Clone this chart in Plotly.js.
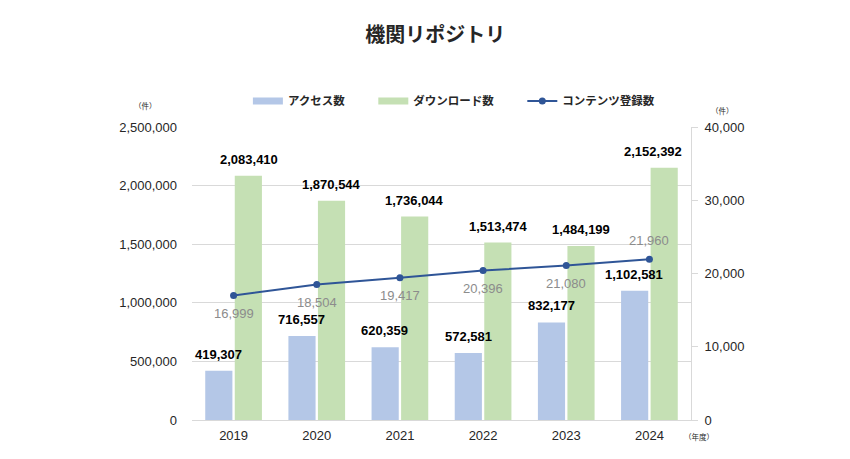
<!DOCTYPE html>
<html>
<head>
<meta charset="utf-8">
<script src="https://cdn.plot.ly/plotly-3.0.1.min.js"></script>
<style>html,body{margin:0;padding:0;background:#fff;}#chart{width:850px;height:459px;}</style>
</head>
<body>
<div id="chart"></div>
<script>
// ---- data ----
var years = ['2019', '2020', '2021', '2022', '2023', '2024'];
var accessCounts = [419307, 716557, 620359, 572581, 832177, 1102581];
var downloadCounts = [2083410, 1870544, 1736044, 1513474, 1484199, 2152392];
var contentCounts = [16999, 18504, 19417, 20396, 21080, 21960];
var seriesNames = ['アクセス数', 'ダウンロード数', 'コンテンツ登録数'];
var unitLeft = '（件）';
var unitRight = '（件）';
var unitX = '（年度）';
var chartTitle = '機関リポジトリ';

// ---- styles ----
var NUM_FONT = 'Liberation Sans, Arial, sans-serif';
var JP_FONT = 'Noto Sans CJK JP, sans-serif';
var BLUE = '#b4c7e7';
var GREEN = '#c5e0b4';
var LINE = '#2f5597';
var GRID = '#d9d9d9';
var LEGEND_PAD = '\u00a0\u00a0\u00a0\u00a0\u00a0\u00a0\u00a0\u00a0\u00a0'; // extra spacing between legend entries

function fmt(n) { return n.toLocaleString('en-US'); }
var noValues = years.map(function () { return null; });

var traces = [
  {type: 'bar', x: years, y: accessCounts, name: seriesNames[0], marker: {color: BLUE}, showlegend: false, hoverinfo: 'skip'},
  {type: 'bar', x: years, y: downloadCounts, name: seriesNames[1], marker: {color: GREEN}, showlegend: false, hoverinfo: 'skip'},
  {type: 'scatter', mode: 'lines+markers', x: years, y: contentCounts, yaxis: 'y2', name: seriesNames[2],
   line: {color: LINE, width: 2}, marker: {color: LINE, size: 7}, legendrank: 3},
  // legend-only proxies for the bar series (wide flat swatches)
  {type: 'scatter', mode: 'lines', x: years, y: noValues, name: seriesNames[0] + LEGEND_PAD, line: {color: BLUE, width: 7}, legendrank: 1, hoverinfo: 'skip'},
  {type: 'scatter', mode: 'lines', x: years, y: noValues, name: seriesNames[1] + LEGEND_PAD, line: {color: GREEN, width: 7}, legendrank: 2, hoverinfo: 'skip'}
];

// annotations use the category index (numeric-looking category strings would be read as numbers)
var annotations = [];
years.forEach(function (yr, i) {
  var last = (i === years.length - 1);
  annotations.push({xref: 'x', yref: 'y', x: i, y: accessCounts[i], xshift: -15, yshift: 7, yanchor: 'bottom',
    text: fmt(accessCounts[i]), showarrow: false, font: {family: NUM_FONT, size: 13, color: '#000', weight: 'bold'}});
  // the last download label is pulled left to stay inside the plot area
  annotations.push({xref: 'x', yref: 'y', x: i, y: downloadCounts[i], xshift: last ? 4 : 15, yshift: 7, yanchor: 'bottom',
    text: fmt(downloadCounts[i]), showarrow: false, font: {family: NUM_FONT, size: 13, color: '#000', weight: 'bold'}});
  annotations.push({xref: 'x', yref: 'y2', x: i, y: contentCounts[i], yshift: last ? 19 : -18, yanchor: 'middle',
    text: fmt(contentCounts[i]), showarrow: false, font: {family: NUM_FONT, size: 13, color: '#8c8c8c'}});
});
annotations.push({xref: 'paper', yref: 'paper', x: -0.094, y: 1.075, xanchor: 'center', yanchor: 'middle',
  text: unitLeft, showarrow: false, font: {family: JP_FONT, size: 7.5, color: '#262626'}});
annotations.push({xref: 'paper', yref: 'paper', x: 1.064, y: 1.058, xanchor: 'center', yanchor: 'middle',
  text: unitRight, showarrow: false, font: {family: JP_FONT, size: 7.5, color: '#262626'}});
annotations.push({xref: 'paper', yref: 'paper', x: 0.982, y: -0.058, xanchor: 'left', yanchor: 'middle',
  text: unitX, showarrow: false, font: {family: JP_FONT, size: 7.5, color: '#262626'}});

var layout = {
  width: 850, height: 459,
  margin: {l: 192, r: 159, t: 127, b: 39},
  paper_bgcolor: '#fff', plot_bgcolor: '#fff',
  title: {text: '<b>' + chartTitle + '</b>', xref: 'container', yref: 'container', x: 0.512, y: 0.924,
    xanchor: 'center', yanchor: 'middle', font: {family: JP_FONT, size: 20, color: '#262626'}},
  barmode: 'group', bargap: 0.29, bargroupgap: 0.08,
  showlegend: true,
  legend: {orientation: 'h', x: 0.112, xanchor: 'left', y: 1.089, yanchor: 'middle', bgcolor: 'rgba(0,0,0,0)',
    font: {family: JP_FONT, size: 11.5, color: '#262626', weight: 'bold'}, traceorder: 'normal'},
  xaxis: {type: 'category', range: [-0.5, years.length - 0.5], showgrid: false, showline: true,
    linecolor: GRID, linewidth: 1, ticks: '', ticklabelstandoff: 3,
    tickfont: {family: NUM_FONT, size: 13, color: '#262626'}, fixedrange: true},
  yaxis: {range: [0, 2500000], dtick: 500000, tickformat: ',d', showgrid: true, gridcolor: GRID, gridwidth: 1,
    zeroline: false, showline: false, ticks: '', ticklabelstandoff: 14,
    tickfont: {family: NUM_FONT, size: 13, color: '#262626'}, fixedrange: true},
  yaxis2: {overlaying: 'y', side: 'right', range: [0, 40000], dtick: 10000, tickformat: ',d', showgrid: false,
    zeroline: false, showline: true, linecolor: GRID, linewidth: 1, ticks: 'outside', ticklen: 6, tickcolor: GRID,
    ticklabelstandoff: 4, tickfont: {family: NUM_FONT, size: 13, color: '#262626'}, fixedrange: true},
  annotations: annotations
};

Plotly.newPlot('chart', traces, layout, {displayModeBar: false, staticPlot: true});
</script>
</body>
</html>
